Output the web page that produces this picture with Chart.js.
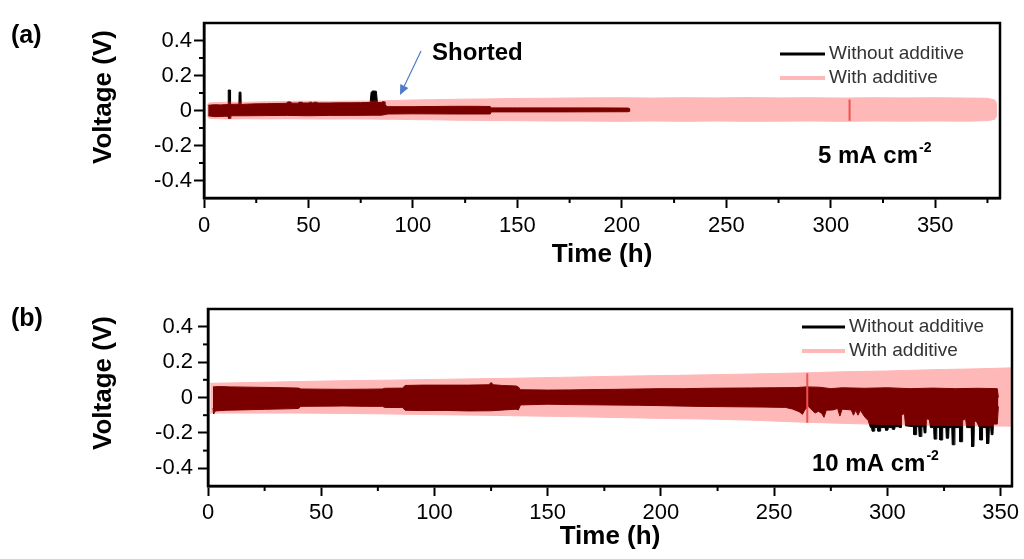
<!DOCTYPE html>
<html>
<head>
<meta charset="utf-8">
<script src="https://cdn.jsdelivr.net/npm/chart.js@4.4.1/dist/chart.umd.min.js"></script>
<style>
  body { margin: 0; background: #fff; }
  canvas { display: block; }
</style>
</head>
<body>
<canvas id="panel-a" width="1024" height="280"></canvas>
<canvas id="panel-b" width="1024" height="279"></canvas>
<script>
// ticks
const yTicks = [-0.4, -0.2, 0, 0.2, 0.4];
const yMinor = [-0.3, -0.1, 0.1, 0.3];
const xTicks = [0, 50, 100, 150, 200, 250, 300, 350];
const xMinorA = [25, 75, 125, 175, 225, 275, 325, 375];
const xMinorB = [25, 75, 125, 175, 225, 275, 325];

// (a) 5 mA cm-2 : envelopes of the cycling curves, [time h, voltage V]
const withUpperA = [[1.5,0.03],[2.5,0.044],[10,0.047],[20,0.047],[30,0.05],[40,0.052],[50,0.053],[60,0.052],[70,0.053],[80,0.054],[86,0.055],[90,0.057],[100,0.06],[110,0.062],[120,0.064],[135,0.066],[150,0.069],[165,0.07],[180,0.072],[200,0.073],[215,0.071],[230,0.073],[245,0.072],[260,0.074],[275,0.072],[290,0.073],[305,0.071],[320,0.073],[335,0.072],[350,0.073],[365,0.071],[375,0.07],[378.5,0.06],[379.6,0.035]];
const withLowerA = [[1.5,-0.03],[2.5,-0.045],[10,-0.048],[20,-0.047],[30,-0.048],[40,-0.047],[50,-0.048],[60,-0.049],[70,-0.048],[80,-0.049],[86,-0.05],[90,-0.05],[100,-0.052],[110,-0.053],[120,-0.055],[135,-0.057],[150,-0.058],[165,-0.06],[180,-0.06],[200,-0.062],[215,-0.06],[230,-0.062],[245,-0.06],[260,-0.062],[275,-0.061],[290,-0.06],[305,-0.062],[320,-0.06],[335,-0.061],[350,-0.06],[365,-0.061],[375,-0.058],[378.5,-0.05],[379.6,-0.025]];
const woUpperA = [[2,0.03],[5,0.033],[8,0.032],[11.5,0.034],[11.6,0.117],[12.6,0.117],[12.7,0.035],[16.7,0.036],[16.8,0.105],[17.7,0.105],[17.8,0.034],[20,0.036],[25,0.038],[30,0.039],[35,0.04],[39.5,0.041],[40,0.049],[41.5,0.049],[42,0.042],[45,0.042],[45.5,0.047],[47,0.047],[47.5,0.043],[50,0.043],[50.5,0.047],[51.5,0.047],[52,0.043],[53,0.047],[54,0.047],[54.5,0.043],[60,0.043],[65,0.044],[70,0.044],[75,0.045],[79.5,0.046],[80,0.105],[80.8,0.112],[82.5,0.11],[83,0.046],[85,0.046],[85.3,0.05],[86.3,0.05],[86.6,0.03],[88,0.022],[100,0.022],[110,0.023],[120,0.024],[130,0.024],[137,0.023],[137.5,0.015],[150,0.015],[170,0.015],[190,0.015],[203,0.014],[204,0.008]];
const woLowerA = [[2,-0.03],[5,-0.035],[10,-0.033],[11.5,-0.033],[11.8,-0.045],[12.6,-0.045],[12.9,-0.03],[20,-0.03],[30,-0.029],[40,-0.028],[50,-0.03],[60,-0.028],[70,-0.028],[80,-0.027],[85,-0.027],[88,-0.02],[100,-0.019],[120,-0.02],[137,-0.02],[137.5,-0.008],[170,-0.008],[203,-0.007],[204,-0.003]];
const cutA = [[309,0.063],[309,-0.058]];

// (b) 10 mA cm-2
const withUpperB = [[1,0.08],[20,0.085],[40,0.09],[60,0.095],[80,0.098],[100,0.102],[120,0.106],[140,0.11],[160,0.115],[180,0.12],[200,0.124],[220,0.128],[240,0.133],[260,0.138],[280,0.145],[300,0.15],[320,0.157],[340,0.162],[356,0.168]];
const withLowerB = [[1,-0.088],[20,-0.088],[40,-0.088],[60,-0.09],[80,-0.093],[100,-0.097],[120,-0.1],[140,-0.104],[160,-0.108],[180,-0.113],[200,-0.118],[220,-0.122],[240,-0.128],[260,-0.138],[280,-0.146],[300,-0.153],[320,-0.157],[340,-0.16],[356,-0.162]];
const woUpperB = [[2.2,0.06],[5,0.062],[10,0.06],[20,0.058],[30,0.056],[40,0.053],[41,0.048],[50,0.047],[60,0.046],[70,0.047],[77,0.048],[78,0.052],[86,0.053],[87,0.068],[95,0.07],[105,0.07],[115,0.07],[124,0.072],[125,0.085],[126,0.072],[130,0.068],[136,0.065],[137,0.06],[138,0.044],[150,0.042],[160,0.043],[170,0.045],[180,0.046],[190,0.048],[200,0.05],[210,0.05],[220,0.052],[230,0.053],[240,0.054],[250,0.055],[260,0.056],[264,0.06],[270,0.058],[275,0.05],[280,0.055],[290,0.052],[300,0.055],[310,0.05],[320,0.053],[330,0.05],[340,0.052],[348.5,0.05],[349,0.0]];
const woLowerB = [[2.2,-0.06],[2.5,-0.093],[3.2,-0.076],[8,-0.072],[15,-0.07],[25,-0.067],[35,-0.064],[40,-0.062],[41,-0.05],[50,-0.049],[60,-0.048],[70,-0.05],[77,-0.05],[78,-0.056],[86,-0.057],[87,-0.072],[95,-0.074],[105,-0.073],[115,-0.076],[125,-0.075],[131,-0.07],[136,-0.066],[137,-0.07],[138,-0.042],[150,-0.038],[160,-0.04],[175,-0.042],[190,-0.044],[200,-0.046],[215,-0.05],[230,-0.052],[245,-0.054],[255,-0.056],[258,-0.065],[261,-0.08],[262.5,-0.095],[263.5,-0.07],[265,-0.05],[267,-0.075],[268,-0.088],[269.5,-0.078],[271,-0.09],[272,-0.112],[273,-0.072],[276,-0.07],[278,-0.062],[279,-0.105],[280,-0.066],[284,-0.07],[285,-0.1],[286,-0.072],[287,-0.1],[288,-0.072],[290,-0.11],[291.5,-0.13],[292.5,-0.17],
  [293,-0.17],[293.2,-0.19],[294.2,-0.19],[294.4,-0.17],[295.6,-0.17],[295.8,-0.19],[296.8,-0.19],[297,-0.17],[299,-0.17],[299.2,-0.185],[300.2,-0.185],[300.4,-0.17],[302,-0.17],[302.2,-0.18],[303.2,-0.18],[303.4,-0.165],[305,-0.165],[305.2,-0.17],[306,-0.17],[306.2,-0.1],[307.5,-0.09],[308,-0.16],[311.5,-0.165],[311.7,-0.21],[312.7,-0.21],[312.9,-0.165],[313.8,-0.165],[314,-0.22],[315,-0.22],[315.2,-0.165],[316,-0.165],[316.2,-0.2],[317,-0.2],[317.2,-0.12],[318.5,-0.125],[319,-0.17],[320.4,-0.17],[320.6,-0.235],[321.6,-0.235],[321.8,-0.17],[323,-0.17],[323.2,-0.24],[324.2,-0.24],[324.4,-0.17],[325.8,-0.17],[326,-0.23],[327,-0.23],[327.2,-0.17],[328.4,-0.17],[328.6,-0.267],[329.6,-0.267],[329.8,-0.17],[331.8,-0.17],[332,-0.25],[333,-0.25],[333.2,-0.13],[334.5,-0.12],[335,-0.17],[337,-0.17],[337.2,-0.277],[338.2,-0.277],[338.4,-0.13],[339.5,-0.14],[340.6,-0.17],[340.8,-0.24],[341.8,-0.24],[342,-0.17],[343.6,-0.17],[343.8,-0.26],[344.8,-0.26],[345,-0.17],[345.6,-0.17],[345.8,-0.21],[346.6,-0.21],[346.8,-0.15],[348.5,-0.15],[349,-0.05]];
const cutB = [[264.6,0.137],[264.6,-0.143]];

const FONT = '"Liberation Sans", Arial, sans-serif';
const BLACK = '#000000';
const DARK = '#7A0000';
const PINK = '#FFB8B8';
const RED = '#F05050';

// datasets are drawn last-to-first; each one may set its own composite mode
const blendPlugin = {
  id: 'blend',
  beforeDatasetsDraw(chart) {
    const ds = chart.data.datasets;
    chart.ctx.globalCompositeOperation = ds[ds.length - 1].blend || 'source-over';
  },
  afterDatasetDraw(chart, args) {
    const next = chart.data.datasets[args.index - 1];
    chart.ctx.globalCompositeOperation = (next && next.blend) || 'source-over';
  },
  afterDatasetsDraw(chart) {
    chart.ctx.globalCompositeOperation = 'source-over';
  }
};

function envelope(label, data, color, blend, fill) {
  return {
    label: label, data: data, blend: blend,
    borderColor: color, backgroundColor: color, borderWidth: 1,
    pointRadius: 0, tension: 0, fill: fill ? '+1' : false
  };
}

function drawArrow(ctx, x0, y0, x1, y1, color) {
  const a = Math.atan2(y1 - y0, x1 - x0);
  const head = 10, half = 4.5;
  const bx = x1 - head * Math.cos(a), by = y1 - head * Math.sin(a);
  ctx.strokeStyle = color; ctx.fillStyle = color; ctx.lineWidth = 1.2;
  ctx.beginPath(); ctx.moveTo(x0, y0); ctx.lineTo(bx, by); ctx.stroke();
  ctx.beginPath();
  ctx.moveTo(x1, y1);
  ctx.lineTo(bx + half * Math.sin(a), by - half * Math.cos(a));
  ctx.lineTo(bx - half * Math.sin(a), by + half * Math.cos(a));
  ctx.closePath(); ctx.fill();
}

function decor(cfg) {
  return {
    id: 'decor',
    afterDraw(chart) {
      const ctx = chart.ctx, a = chart.chartArea;
      const x = chart.scales.x, y = chart.scales.y;
      ctx.save();
      ctx.strokeStyle = '#000';
      ctx.lineWidth = 2.5;
      ctx.strokeRect(a.left, a.top, a.right - a.left, a.bottom - a.top);
      ctx.lineWidth = 2;
      cfg.xMinor.forEach(v => {
        const px = x.getPixelForValue(v);
        ctx.beginPath(); ctx.moveTo(px, a.bottom); ctx.lineTo(px, a.bottom + 5); ctx.stroke();
      });
      yMinor.forEach(v => {
        const py = y.getPixelForValue(v);
        ctx.beginPath(); ctx.moveTo(a.left, py); ctx.lineTo(a.left - 5, py); ctx.stroke();
      });

      ctx.fillStyle = '#000';
      ctx.textAlign = 'center';
      ctx.textBaseline = 'middle';
      ctx.save();
      ctx.translate(104, cfg.yTitleY);
      ctx.rotate(-Math.PI / 2);
      ctx.font = 'bold 26px ' + FONT;
      ctx.fillText('Voltage (V)', 0, 0);
      ctx.restore();

      ctx.textAlign = 'left';
      ctx.font = 'bold 25px ' + FONT;
      ctx.fillText(cfg.letter, 11, cfg.letterY);

      // legend
      const lg = cfg.legend;
      ctx.lineWidth = 3;
      ctx.strokeStyle = BLACK;
      ctx.beginPath(); ctx.moveTo(lg.x1, lg.y1); ctx.lineTo(lg.x2, lg.y1); ctx.stroke();
      ctx.lineWidth = 4;
      ctx.strokeStyle = PINK;
      ctx.beginPath(); ctx.moveTo(lg.x1, lg.y2); ctx.lineTo(lg.x2, lg.y2); ctx.stroke();
      ctx.fillStyle = '#333';
      ctx.font = '19px ' + FONT;
      ctx.fillText('Without additive', lg.x2 + 4, lg.y1);
      ctx.fillText('With additive', lg.x2 + 4, lg.y2);

      // current density label
      const u = cfg.unit;
      ctx.fillStyle = '#000';
      ctx.textBaseline = 'alphabetic';
      ctx.font = 'bold 24px ' + FONT;
      ctx.fillText(u.text, u.x, u.y);
      const w = ctx.measureText(u.text).width;
      ctx.font = 'bold 14px ' + FONT;
      ctx.fillText('-2', u.x + w + 1, u.y - 11);

      if (cfg.note) {
        ctx.font = 'bold 24px ' + FONT;
        ctx.fillText(cfg.note.text, cfg.note.x, cfg.note.y);
        drawArrow(ctx, 421, 51, 400, 95, '#4F7BC8');
      }
      ctx.restore();
    }
  };
}

function makeChart(id, cfg) {
  const tickFont = { family: FONT, size: 22 };
  return new Chart(document.getElementById(id), {
    type: 'line',
    data: {
      datasets: [
        { label: 'cut', data: cfg.cut, borderColor: RED, borderWidth: 2, pointRadius: 0, fill: false, blend: 'source-over' },
        envelope('Without additive', cfg.woUpper, BLACK, 'destination-over', true),
        envelope('Without additive', cfg.woLower, BLACK, 'destination-over', false),
        envelope('Without additive', cfg.woUpper, DARK, 'source-atop', true),
        envelope('Without additive', cfg.woLower, DARK, 'source-atop', false),
        envelope('With additive', cfg.withUpper, PINK, 'source-over', true),
        envelope('With additive', cfg.withLower, PINK, 'source-over', false)
      ]
    },
    options: {
      responsive: false,
      animation: false,
      events: [],
      layout: { padding: cfg.padding },
      plugins: {
        legend: { display: false },
        tooltip: { enabled: false },
        filler: { propagate: false }
      },
      scales: {
        x: {
          type: 'linear', min: 0, max: cfg.xMax,
          afterBuildTicks: s => { s.ticks = xTicks.map(v => ({ value: v })); },
          afterFit: s => { s.height = cfg.xAxisHeight; },
          ticks: { font: tickFont, color: '#000', padding: cfg.xTickPad, maxRotation: 0, autoSkip: false, callback: v => String(v) },
          grid: { display: true, drawOnChartArea: false, drawTicks: true, tickLength: 10, tickWidth: 2, tickColor: '#000' },
          border: { display: true, color: '#000', width: 2.5 },
          title: { display: true, text: 'Time (h)', color: '#000', font: { family: FONT, size: 26, weight: 'bold' }, padding: { top: 0, bottom: cfg.titlePad } }
        },
        y: {
          min: -0.5, max: 0.5,
          afterBuildTicks: s => { s.ticks = yTicks.map(v => ({ value: v })); },
          afterFit: s => { s.width = cfg.yAxisWidth; },
          ticks: { font: tickFont, color: '#000', padding: cfg.yTickPad, autoSkip: false, callback: v => v === 0 ? '0' : v.toFixed(1) },
          grid: { display: true, drawOnChartArea: false, drawTicks: true, tickLength: 10, tickWidth: 2, tickColor: '#000' },
          border: { display: true, color: '#000', width: 2.5 }
        }
      }
    },
    plugins: [blendPlugin, decor(cfg)]
  });
}

makeChart('panel-a', {
  withUpper: withUpperA, withLower: withLowerA, woUpper: woUpperA, woLower: woLowerA, cut: cutA,
  xMax: 381, xMinor: xMinorA,
  padding: { top: 23, right: 24, bottom: 0, left: 0 },
  xAxisHeight: 82, yAxisWidth: 204, xTickPad: 5, yTickPad: 2, titlePad: 10,
  yTitleY: 97, letter: '(a)', letterY: 36,
  legend: { x1: 780, x2: 825, y1: 54, y2: 78 },
  unit: { text: '5 mA cm', x: 818, y: 163 },
  note: { text: 'Shorted', x: 432, y: 60 }
});

makeChart('panel-b', {
  withUpper: withUpperB, withLower: withLowerB, woUpper: woUpperB, woLower: woLowerB, cut: cutB,
  xMax: 355, xMinor: xMinorB,
  padding: { top: 29, right: 12, bottom: 0, left: 0 },
  xAxisHeight: 73, yAxisWidth: 208, xTickPad: 4, yTickPad: 5, titlePad: 7,
  yTitleY: 103, letter: '(b)', letterY: 39,
  legend: { x1: 802, x2: 845, y1: 47, y2: 71 },
  unit: { text: '10 mA cm', x: 812, y: 191 }
});
</script>
</body>
</html>
